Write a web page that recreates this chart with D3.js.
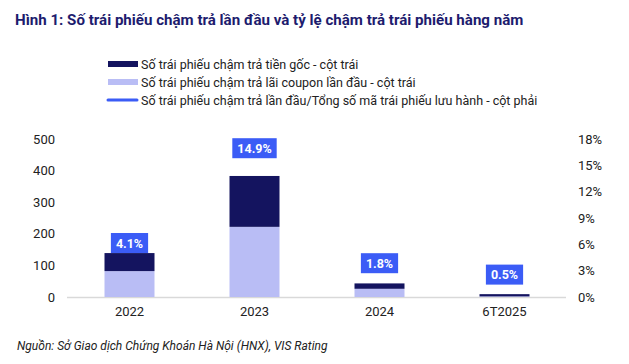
<!DOCTYPE html>
<html>
<head>
<meta charset="utf-8">
<script src="https://cdn.jsdelivr.net/npm/d3@7"></script>
<style>
  body { margin: 0; background: #fff; }
  text { font-family: Roboto, "Noto Sans", sans-serif; }
</style>
</head>
<body>
<svg id="chart" width="629" height="364"></svg>
<script>
// data
var categories = ['2022', '2023', '2024', '6T2025'];
var couponFirst = [82, 222, 26, 2];     // lãi coupon lần đầu (left axis)
var principal = [57, 161, 17, 7];       // tiền gốc (left axis)
var defaultRate = [0.041, 0.149, 0.018, 0.005]; // right axis
var leftTicks = [0, 100, 200, 300, 400, 500];
var rightTicks = [0, 0.03, 0.06, 0.09, 0.12, 0.15, 0.18];
var legendLabels = [
  'Số trái phiếu chậm trả tiền gốc - cột trái',
  'Số trái phiếu chậm trả lãi coupon lần đầu - cột trái',
  'Số trái phiếu chậm trả lần đầu/Tổng số mã trái phiếu lưu hành - cột phải'
];

var darkC = '#14145f', lightC = '#b9bdf5', blueC = '#3b5cf6';

var svg = d3.select('#chart');

// title
svg.append('text')
    .attr('x', 15).attr('y', 25)
    .attr('font-size', 15.1).attr('font-weight', 'bold')
    .attr('fill', '#1d1c6e')
    .text('Hình 1: Số trái phiếu chậm trả lần đầu và tỷ lệ chậm trả trái phiếu hàng năm');

// legend
var legend = svg.append('g').attr('transform', 'translate(107,64)');
legendLabels.forEach(function(lbl, i) {
  var g = legend.append('g').attr('transform', 'translate(0,' + (i * 18) + ')');
  if (i < 2) {
    g.append('rect').attr('x', 1).attr('y', -3).attr('width', 30).attr('height', 6)
        .attr('fill', i === 0 ? darkC : lightC);
  } else {
    g.append('line').attr('x1', 1).attr('x2', 30).attr('y1', 0).attr('y2', 0)
        .attr('stroke', blueC).attr('stroke-width', 3).attr('stroke-linecap', 'round');
  }
  g.append('text').attr('x', 34).attr('y', 4.5)
      .attr('font-size', 12.5).attr('fill', '#222').text(lbl);
});

// scales
var x = d3.scaleBand().domain(categories).range([67, 567]).paddingInner(0.6).paddingOuter(0.3);
var yL = d3.scaleLinear().domain([0, 500]).range([297, 139]);
var yR = d3.scaleLinear().domain([0, 0.18]).range([297, 139]);

// axes
var axL = svg.append('g').attr('transform', 'translate(62,0)')
    .call(d3.axisLeft(yL).tickValues(leftTicks).tickSize(0).tickPadding(7));
var axR = svg.append('g').attr('transform', 'translate(571,0)')
    .call(d3.axisRight(yR).tickValues(rightTicks).tickSize(0).tickPadding(7)
      .tickFormat(d3.format('.0%')));
[axL, axR].forEach(function(a) {
  a.select('.domain').remove();
  a.selectAll('text').attr('font-size', 13).attr('fill', '#222')
      .style('font-family', 'Roboto, sans-serif');
});

var axX = svg.append('g').attr('transform', 'translate(0,297)')
    .call(d3.axisBottom(x).tickSize(0).tickPadding(10));
axX.select('.domain').remove();
axX.selectAll('text').attr('font-size', 13).attr('fill', '#222')
    .style('font-family', 'Roboto, sans-serif');

svg.append('line').attr('x1', 67).attr('x2', 566).attr('y1', 297.5).attr('y2', 297.5)
    .attr('stroke', '#d9d9d9').attr('stroke-width', 1.5);

// stacked bars
var stackData = categories.map(function(c, i) {
  return { cat: c, coupon: couponFirst[i], principal: principal[i] };
});
var series = d3.stack().keys(['coupon', 'principal'])(stackData);

svg.append('g').selectAll('g').data(series).join('g')
    .attr('fill', function(d) { return d.key === 'coupon' ? lightC : darkC; })
  .selectAll('rect').data(function(d) { return d; }).join('rect')
    .attr('x', function(d) { return x(d.data.cat); })
    .attr('width', x.bandwidth())
    .attr('y', function(d) { return yL(d[1]); })
    .attr('height', function(d) { return yL(d[0]) - yL(d[1]); });

// rate labels (line itself is not drawn in the original)
var lab = svg.append('g').selectAll('g').data(defaultRate).join('g')
    .attr('transform', function(d, i) {
      return 'translate(' + (x(categories[i]) + x.bandwidth() / 2) + ',' + (yR(d) - 18) + ')';
    });
lab.append('text')
    .attr('text-anchor', 'middle').attr('dy', '0.36em')
    .attr('font-size', 12.5).attr('font-weight', 'bold').attr('fill', '#fff')
    .text(function(d) { return d3.format('.1%')(d); })
    .each(function() {
      var b = this.getBBox();
      d3.select(this.parentNode).insert('rect', 'text')
          .attr('x', b.x - 5).attr('y', -10)
          .attr('width', b.width + 10).attr('height', 20)
          .attr('fill', blueC);
    });

// source
svg.append('text')
    .attr('x', 17).attr('y', 350)
    .attr('font-size', 12).attr('font-style', 'italic').attr('fill', '#222')
    .text('Nguồn: Sở Giao dịch Chứng Khoán Hà Nội (HNX), VIS Rating');
</script>
</body>
</html>
